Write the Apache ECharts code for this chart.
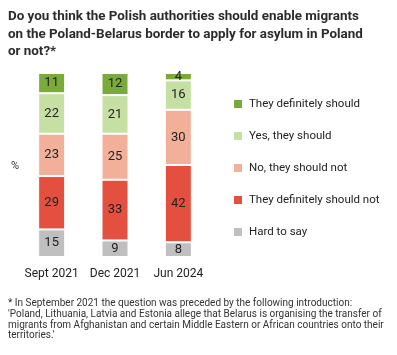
<!DOCTYPE html>
<html><head><meta charset="utf-8">
<script src="https://cdn.jsdelivr.net/npm/echarts@6/dist/echarts.min.js"></script>
<style>html,body{margin:0;padding:0;background:#fff}#c{width:397px;height:355px}</style>
</head><body><div id="c"></div>
<script>
const categories = ['Sept 2021', 'Dec 2021', 'Jun 2024'];
const hardToSay = [15, 9, 8];
const definitelyNot = [29, 33, 42];
const shouldNot = [23, 25, 30];
const yesShould = [22, 21, 16];
const definitelyShould = [11, 12, 4];
const seriesNames = ['Hard to say', 'They definitely should not', 'No, they should not', 'Yes, they should', 'They definitely should'];
const legendOrder = ['They definitely should', 'Yes, they should', 'No, they should not', 'They definitely should not', 'Hard to say'];
const colors = ['#bfbfbf', '#e4503f', '#f2b09a', '#c6e0a4', '#7aab3a'];
const titleText = 'Do you think the Polish authorities should enable migrants\non the Poland-Belarus border to apply for asylum in Poland\nor not?*';
const footText = "* In September 2021 the question was preceded by the following introduction:\n'Poland, Lithuania, Latvia and Estonia allege that Belarus is organising the transfer of\nmigrants from Afghanistan and certain Middle Eastern or African countries onto their\nterritories.'";

const dataSets = [hardToSay, definitelyNot, shouldNot, yesShould, definitelyShould];
const chart = echarts.init(document.getElementById('c'), null, {renderer: 'canvas'});
chart.setOption({
  animation: false,
  title: [
    {text: titleText, left: 3, top: 3, textStyle: {fontFamily: 'Roboto', fontSize: 13.4, fontWeight: 'bold', color: '#2b2b2b', lineHeight: 17.5}},
    {text: footText, left: 3, top: 293, textStyle: {fontFamily: 'Roboto', fontSize: 10, fontWeight: 'normal', color: '#333', lineHeight: 10.8}}
  ],
  graphic: [{type: 'text', left: 11, top: 161, style: {text: '%', fontFamily: 'Roboto', fontSize: 11, fill: '#333'}}],
  legend: {
    orient: 'vertical', left: 227, top: 93, itemWidth: 10, itemHeight: 10, itemGap: 20,
    icon: 'rect', data: legendOrder,
    textStyle: {fontFamily: 'Roboto', fontSize: 11.5, color: '#222', padding: [0, 0, 0, 1]}
  },
  grid: {left: 20, width: 190, top: 73, height: 184},
  xAxis: {type: 'category', data: categories, axisLine: {show: false}, axisTick: {show: false},
    axisLabel: {interval: 0, fontFamily: 'Roboto', fontSize: 12, color: '#222', margin: 11}},
  yAxis: {type: 'value', min: 0, max: 100, show: false},
  series: seriesNames.map((n, i) => ({
    name: n, type: 'bar', stack: 'a', barWidth: 27, data: dataSets[i],
    itemStyle: {color: colors[i], borderColor: '#fff', borderWidth: 1},
    label: {show: true, position: 'inside', fontFamily: 'Roboto', fontSize: 13, color: '#222'}
  }))
});
</script></body></html>
